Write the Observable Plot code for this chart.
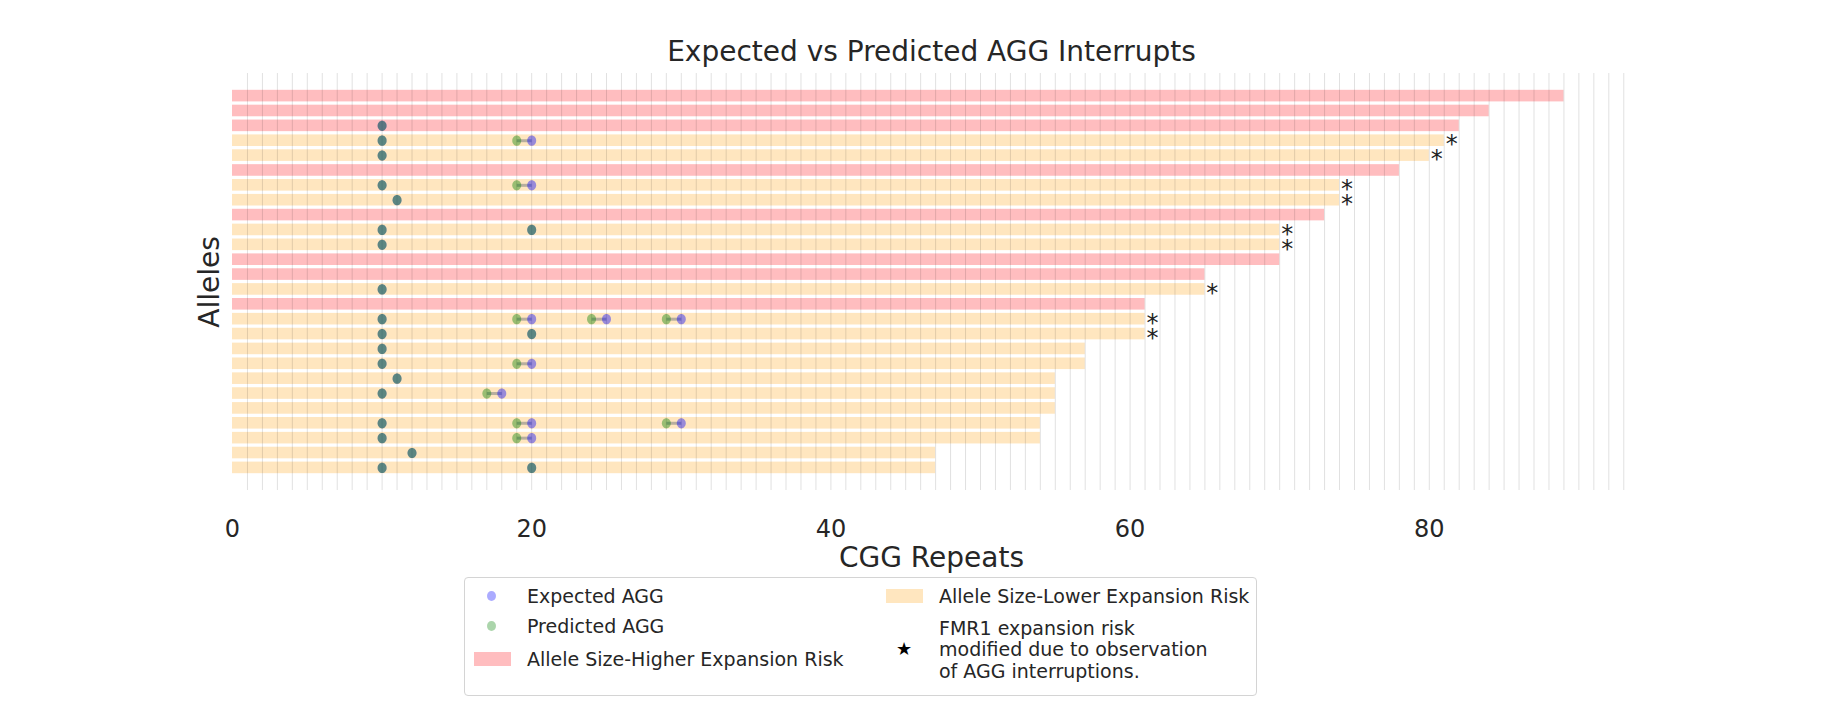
<!DOCTYPE html>
<html>
<head>
<meta charset="utf-8">
<script src="https://cdn.jsdelivr.net/npm/d3@7"></script>
<script src="https://cdn.jsdelivr.net/npm/@observablehq/plot@0.6"></script>
<style>
  html, body { margin: 0; padding: 0; background: #fff; }
  #wrap { position: relative; width: 1845px; height: 703px; font-family: "DejaVu Sans", sans-serif; color: #262626; }
  #legend { position: absolute; left: 464px; top: 577px; width: 793px; height: 119px; box-sizing: border-box;
            border: 1.5px solid #d4d4d4; border-radius: 4px; background: #fff; font-size: 19px; }
  #legend .t { position: absolute; white-space: nowrap; line-height: 22px; }
  #legend .dot { position: absolute; width: 9px; height: 10px; border-radius: 50%; }
  #legend .patch { position: absolute; width: 37px; height: 14px; }
</style>
</head>
<body>
<div id="wrap"></div>
<script>
// ---- data ----
const alleleSize = [89, 84, 82, 81, 80, 78, 74, 74, 73, 70, 70, 70, 65, 65, 61, 61, 61, 57, 57, 55, 55, 55, 54, 54, 47, 47];
const riskGroup = ["Higher","Higher","Higher","Lower","Lower","Higher","Lower","Lower","Higher","Lower","Lower","Higher","Higher",
                   "Lower","Higher","Lower","Lower","Lower","Lower","Lower","Lower","Lower","Lower","Lower","Lower","Lower"];
const riskModified = [0,0,0,1,1,0,1,1,0,1,1,0,0,1,0,1,1,0,0,0,0,0,0,0,0,0];
const expectedAGG = [[],[],[10],[10,20],[10],[],[10,20],[11],[],[10,20],[10],[],[],[10],[],[10,20,25,30],[10,20],[10],[10,20],[11],[10,18],[],[10,20,30],[10,20],[12],[10,20]];
const predictedAGG = [[],[],[10],[10,19],[10],[],[10,19],[11],[],[10,20],[10],[],[],[10],[],[10,19,24,29],[10,20],[10],[10,19],[11],[10,17],[],[10,19,29],[10,19],[12],[10,20]];
const xTicks = [0, 20, 40, 60, 80];
const gridValues = d3.range(1, 94);

const rows = alleleSize.map((s, i) => ({i, size: s, risk: riskGroup[i], modified: riskModified[i]}));
const expPts = rows.flatMap(r => expectedAGG[r.i].map(v => ({i: r.i, x: v})));
const predPts = rows.flatMap(r => predictedAGG[r.i].map(v => ({i: r.i, x: v})));
const links = rows.flatMap(r => predictedAGG[r.i].map((v, k) => ({i: r.i, x1: v, x2: expectedAGG[r.i][k]})));

const ellipse = {
  draw(ctx, size) {
    const r = Math.sqrt(size / Math.PI), rx = r * 0.88, ry = r, k = 0.5523;
    ctx.moveTo(rx, 0);
    ctx.bezierCurveTo(rx, ry * k, rx * k, ry, 0, ry);
    ctx.bezierCurveTo(-rx * k, ry, -rx, ry * k, -rx, 0);
    ctx.bezierCurveTo(-rx, -ry * k, -rx * k, -ry, 0, -ry);
    ctx.bezierCurveTo(rx * k, -ry, rx, -ry * k, rx, 0);
    ctx.closePath();
  }
};

const PINK = "#ffbdbf", ORANGE = "#ffe6bf";
const font = "DejaVu Sans";

const chart = Plot.plot({
  width: 1845,
  height: 703,
  marginLeft: 232,
  marginRight: 215,
  marginTop: 73,
  marginBottom: 213,
  style: {fontFamily: font, color: "#262626", background: "transparent"},
  x: {domain: [0, 93.45], axis: null},
  y: {domain: [-1.52, 26.52], reverse: true, axis: null},
  color: {domain: ["Higher", "Lower"], range: [PINK, ORANGE]},
  marks: [
    Plot.rectX(rows, {x1: 0, x2: "size", y1: d => d.i - 0.39, y2: d => d.i + 0.39, fill: "risk"}),
    Plot.ruleX(gridValues, {x: d => d, stroke: "#000", strokeOpacity: 0.12, strokeWidth: 1}),
    Plot.link(links, {x1: "x1", x2: "x2", y1: "i", y2: "i", stroke: "#888", strokeOpacity: 0.6, strokeWidth: 3}),
    Plot.dot(expPts, {x: "x", y: "i", r: 5.1, symbol: ellipse, fill: "blue", fillOpacity: 0.4, stroke: "none"}),
    Plot.dot(predPts, {x: "x", y: "i", r: 5.1, symbol: ellipse, fill: "green", fillOpacity: 0.4, stroke: "none"}),
    Plot.text(rows.filter(d => d.modified), {x: d => d.size + 0.5, y: "i", text: () => "*", fontSize: 24, dy: 4, fill: "#222"}),
    Plot.axisX({ticks: xTicks, tickSize: 0, tickPadding: 29, fontSize: 24, label: null, tickFormat: d => String(d)}),
    Plot.text(["Expected vs Predicted AGG Interrupts"], {frameAnchor: "top", lineAnchor: "middle", textAnchor: "middle", dy: -21, fontSize: 28, fill: "#262626"}),
    Plot.text(["CGG Repeats"], {frameAnchor: "bottom", lineAnchor: "middle", textAnchor: "middle", dy: 68, fontSize: 28, fill: "#262626"}),
    Plot.text(["Alleles"], {frameAnchor: "left", lineAnchor: "middle", textAnchor: "middle", rotate: -90, dx: -22, fontSize: 28, fill: "#262626"})
  ]
});

const wrap = document.getElementById("wrap");
wrap.appendChild(chart);

// ---- legend ----
const legendItems = [
  {kind: "dot", color: "rgba(0,0,255,0.33)", x: 22, y: 18, label: ["Expected AGG"], tx: 62},
  {kind: "dot", color: "rgba(0,128,0,0.33)", x: 22, y: 48, label: ["Predicted AGG"], tx: 62},
  {kind: "patch", color: PINK, x: 9, y: 81, label: ["Allele Size-Higher Expansion Risk"], tx: 62},
  {kind: "patch", color: ORANGE, x: 421, y: 18, label: ["Allele Size-Lower Expansion Risk"], tx: 474},
  {kind: "star", x: 439, y: 71, label: ["FMR1 expansion risk", "modified due to observation", "of AGG interruptions."], tx: 474}
];
const legend = document.createElement("div");
legend.id = "legend";
for (const it of legendItems) {
  if (it.kind === "dot") {
    const d = document.createElement("div");
    d.className = "dot";
    d.style.left = it.x + "px"; d.style.top = (it.y - 5) + "px"; d.style.background = it.color;
    legend.appendChild(d);
  } else if (it.kind === "patch") {
    const d = document.createElement("div");
    d.className = "patch";
    d.style.left = it.x + "px"; d.style.top = (it.y - 7) + "px"; d.style.background = it.color;
    legend.appendChild(d);
  } else {
    const d = document.createElement("div");
    d.className = "t";
    d.textContent = "★";
    d.style.fontSize = "18px";
    d.style.color = "#000";
    d.style.left = (it.x - 8) + "px"; d.style.top = (it.y - 11) + "px";
    legend.appendChild(d);
  }
  const n = it.label.length;
  it.label.forEach((line, k) => {
    const t = document.createElement("div");
    t.className = "t";
    t.textContent = line;
    t.style.left = it.tx + "px";
    const cy = it.y + (k - (n - 1) / 2) * 21.5;
    t.style.top = (cy - 11) + "px";
    legend.appendChild(t);
  });
}
wrap.appendChild(legend);
</script>
</body>
</html>
